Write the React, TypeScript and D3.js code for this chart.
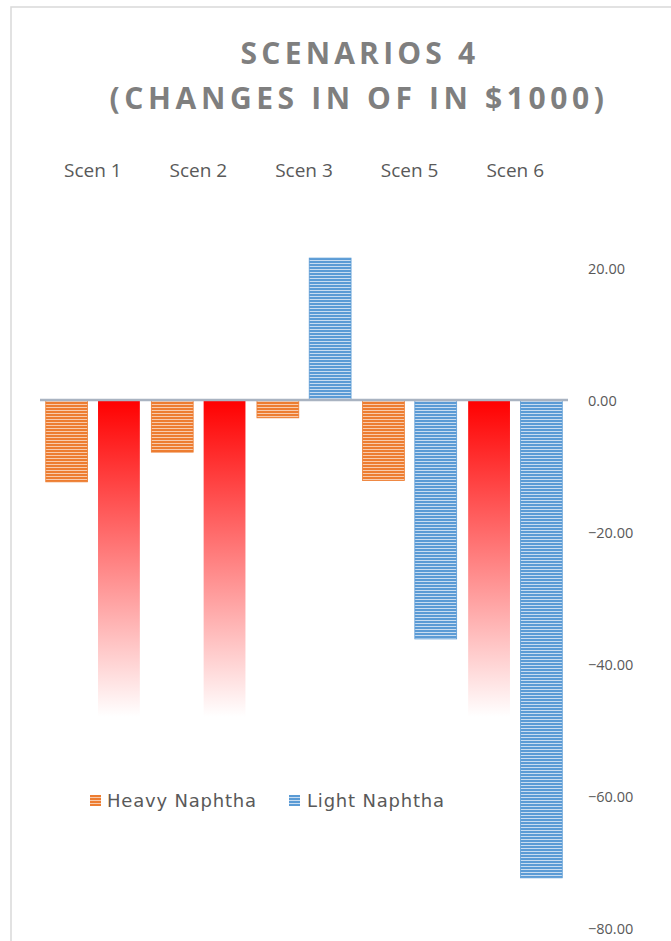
import React from 'react';
import * as d3 from 'd3';

// chart data
const categories = ['Scen 1', 'Scen 2', 'Scen 3', 'Scen 5', 'Scen 6'];
const heavyNaphtha = [-12.4, -7.9, -2.7, -12.2, -48];
const lightNaphtha = [-48, -48, 21.5, -36.2, -72.4];
// points that carry the red fading fill instead of the series pattern
const heavyHighlight = [false, false, false, false, true];
const lightHighlight = [true, true, false, false, false];
const yTicks = [20, 0, -20, -40, -60, -80];
const seriesNames = ['Heavy Naphtha', 'Light Naphtha'];

const W = 671;
const H = 941;
const textGray = '#595959';

const App: React.FC = () => {
  const x = d3.scaleBand<string>().domain(categories).range([40, 568]);
  const sub = d3
    .scaleBand<string>()
    .domain(['heavy', 'light'])
    .range([0, x.bandwidth()])
    .paddingInner(0.2)
    .paddingOuter(0.11);
  const y = d3.scaleLinear().domain([-80, 20]).range([928, 268]);
  const fmt = d3.format('.2f');

  const bars = categories.flatMap((c, i) => [
    { key: `h${i}`, cat: c, s: 'heavy', v: heavyNaphtha[i], red: heavyHighlight[i] },
    { key: `l${i}`, cat: c, s: 'light', v: lightNaphtha[i], red: lightHighlight[i] },
  ]);

  return (
    <svg
      width={W}
      height={H}
      style={{ position: 'absolute', left: 0, top: 0, background: '#fff' }}
    >
      <defs>
        <pattern id="orangeStripe" width="6" height="3" patternUnits="userSpaceOnUse">
          <rect width="6" height="3" fill="#F8CBAD" />
          <rect width="6" height="2" fill="#ED7D31" />
        </pattern>
        <pattern id="blueStripe" width="6" height="3" patternUnits="userSpaceOnUse">
          <rect width="6" height="3" fill="#C9DDF1" />
          <rect width="6" height="2" fill="#5B9BD5" />
        </pattern>
        <linearGradient id="redFade" x1="0" y1="0" x2="0" y2="1">
          <stop offset="0" stopColor="#FF0000" />
          <stop offset="1" stopColor="#FFFFFF" />
        </linearGradient>
      </defs>

      {/* chart frame */}
      <rect x={11} y={7} width={W + 20} height={H + 20} fill="#fff" stroke="#D9D9D9" strokeWidth={1.5} />

      {/* title */}
      <g fill="#7F7F7F" fontFamily="'Open Sans', sans-serif" fontWeight={700} fontSize={30} textAnchor="middle">
        <text x={360} y={64} letterSpacing={4.2}>SCENARIOS 4</text>
        <text x={359} y={109} letterSpacing={4.6}>(CHANGES IN OF IN $1000)</text>
      </g>

      {/* category labels */}
      <g fill={textGray} fontFamily="'Open Sans', sans-serif" fontSize={19} textAnchor="middle">
        {categories.map((c) => (
          <text key={c} x={(x(c) ?? 0) + x.bandwidth() / 2} y={177}>{c}</text>
        ))}
      </g>

      {/* bars */}
      {bars.map((b) => {
        const bx = (x(b.cat) ?? 0) + (sub(b.s) ?? 0);
        const y0 = y(0);
        const y1 = y(b.v);
        const top = Math.min(y0, y1);
        const h = Math.abs(y1 - y0);
        const fill = b.red ? 'url(#redFade)' : b.s === 'heavy' ? 'url(#orangeStripe)' : 'url(#blueStripe)';
        const stroke = b.red ? 'none' : b.s === 'heavy' ? '#ED7D31' : '#5B9BD5';
        return (
          <rect key={b.key} x={bx} y={top} width={sub.bandwidth()} height={h} fill={fill} stroke={stroke} strokeWidth={0.8} />
        );
      })}

      {/* zero line */}
      <line x1={40} x2={568} y1={y(0)} y2={y(0)} stroke="#A9B3C1" strokeWidth={2.5} />

      {/* y axis labels on the right */}
      <g fill={textGray} fontFamily="'Open Sans', sans-serif" fontSize={14.5}>
        {yTicks.map((t) => (
          <text key={t} x={588} y={y(t)} dominantBaseline="central">{fmt(t)}</text>
        ))}
      </g>

      {/* legend */}
      <g fontFamily="'DejaVu Sans', sans-serif" fontSize={18} fill={textGray} letterSpacing={0.8}>
        <rect x={90} y={795} width={11} height={11} fill="url(#orangeStripe)" />
        <text x={107} y={806.5}>{seriesNames[0]}</text>
        <rect x={289} y={795} width={11} height={11} fill="url(#blueStripe)" />
        <text x={307} y={806.5}>{seriesNames[1]}</text>
      </g>
    </svg>
  );
};

export default App;
